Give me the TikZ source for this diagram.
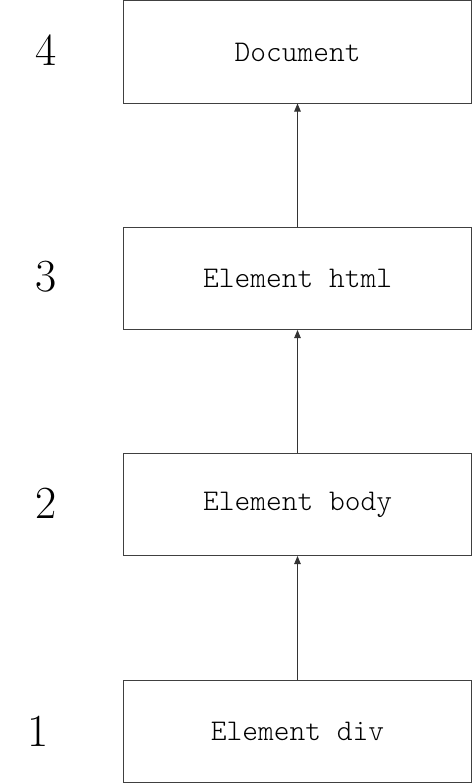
\documentclass[tikz,border=0pt]{standalone}
\usetikzlibrary{arrows.meta}
\begin{document}
\begin{tikzpicture}[x=1pt,y=-1pt,
  box/.style={draw=black!75,line width=1pt,minimum width=348pt,minimum height=102pt,inner sep=0pt,
    font=\fontsize{30}{32}\ttfamily\fontseries{l}\selectfont},
  num/.style={font=\fontsize{46}{48}\selectfont},
  link/.style={draw=black!80,line width=0.9pt,-{Triangle[length=8pt,width=6.5pt]}}]
\useasboundingbox (0,0) rectangle (473,784);
\node[box] (b4) at (297.5,52) {Document};
\node[box] (b3) at (297.5,278.5) {Element html};
\node[box] (b2) at (297.5,504.5) {Element body};
\node[box] (b1) at (297.5,731) {Element div};
\node[num] (n4) at (46,50) {4};
\node[num] (n3) at (46,277) {3};
\node[num] (n2) at (46,503) {2};
\node[num] (n1) at (38,731) {1};
\draw[link] (b1.north) -- (b2.south);
\draw[link] (b2.north) -- (b3.south);
\draw[link] (b3.north) -- (b4.south);
\end{tikzpicture}
\end{document}
